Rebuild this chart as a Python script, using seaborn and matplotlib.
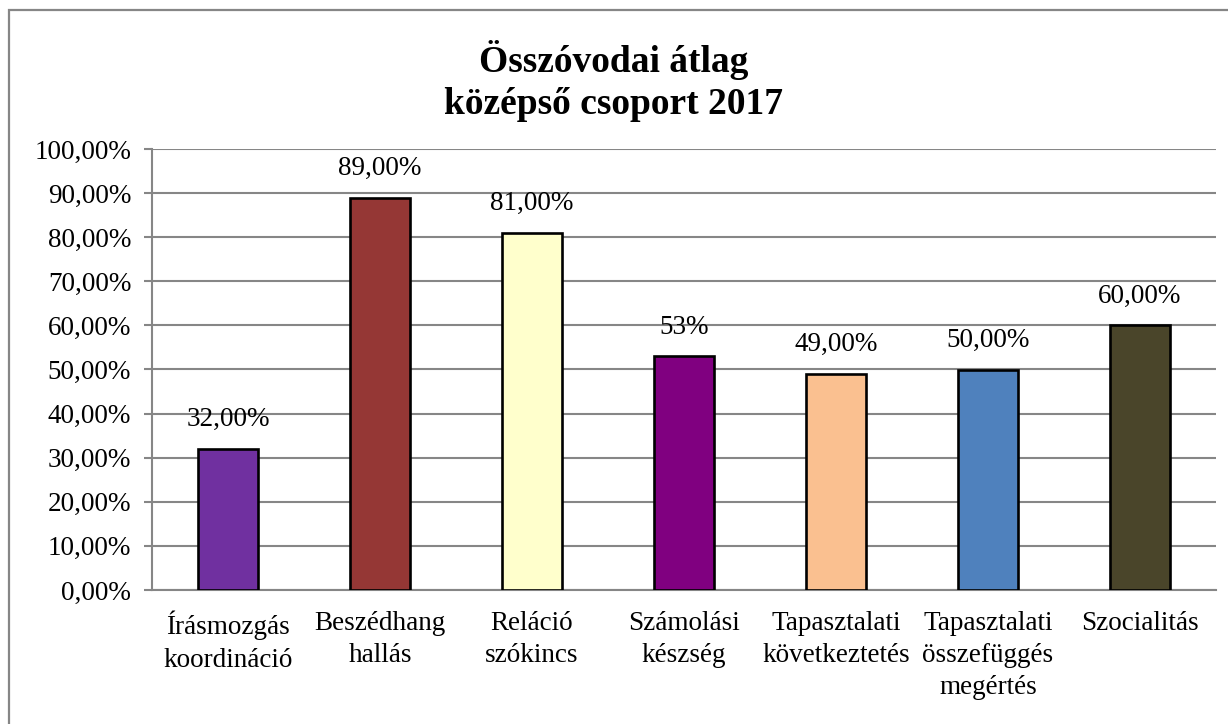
import matplotlib
matplotlib.use("Agg")
import matplotlib.pyplot as plt
import seaborn as sns
import pandas as pd
from matplotlib.patches import Rectangle
from matplotlib.ticker import FuncFormatter, MultipleLocator

categories = [
    "Írásmozgás\nkoordináció",
    "Beszédhang\nhallás",
    "Reláció\nszókincs",
    "Számolási\nkészség",
    "Tapasztalati\nkövetkeztetés",
    "Tapasztalati\nösszefüggés\nmegértés",
    "Szocialitás",
]
values = [0.32, 0.89, 0.81, 0.53, 0.49, 0.50, 0.60]
value_labels = ["32,00%", "89,00%", "81,00%", "53%", "49,00%", "50,00%", "60,00%"]
colors = ["#7030A0", "#953735", "#FFFFCC", "#800080", "#FAC090", "#4F81BD", "#4A452A"]
title_lines = ["Összóvodai átlag", "középső csoport 2017"]

sns.set_theme(style="white")
plt.rcParams["font.family"] = ["Liberation Serif", "DejaVu Serif"]
plt.rcParams["text.color"] = "black"

GRID = "#868686"
FS = 19.5

fig = plt.figure(figsize=(12.28, 7.24), dpi=100)
ax = fig.add_axes([152 / 1228, 1 - 590 / 724, (1216 - 152) / 1228, (590 - 149) / 724])

df = pd.DataFrame({"cat": categories, "val": values})
sns.barplot(data=df, x="cat", y="val", hue="cat", palette=colors, legend=False,
            saturation=1, width=0.4, edgecolor="black", linewidth=1.9, ax=ax, zorder=3)

ax.set_ylim(0, 1)
ax.set_xlim(-0.5, len(categories) - 0.5)
ax.yaxis.set_major_locator(MultipleLocator(0.1))
ax.yaxis.set_major_formatter(FuncFormatter(lambda v, p: f"{v*100:.2f}%".replace(".", ",")))
ax.grid(axis="y", color=GRID, linewidth=1.5, zorder=0)
ax.set_axisbelow(True)
for s in ["top", "right"]:
    ax.spines[s].set_visible(False)
for s in ["left", "bottom"]:
    ax.spines[s].set_color(GRID)
    ax.spines[s].set_linewidth(1.5)

ax.set_xlabel("")
ax.set_ylabel("")
ax.set_xticks(range(len(categories)))
ax.set_xticklabels(categories, fontsize=FS, linespacing=1.38, color="black")
ax.tick_params(axis="x", which="major", length=0, pad=15)
ax.set_xticks([i - 0.5 for i in range(len(categories) + 1)], minor=True)
ax.tick_params(axis="x", which="minor", length=6, width=1.5, color=GRID, direction="out")
ax.tick_params(axis="y", length=6, width=1.5, color=GRID, direction="out", pad=9,
               labelsize=FS, labelcolor="black", left=True)

for i, (v, lab) in enumerate(zip(values, value_labels)):
    ax.annotate(lab, xy=(i, v), xytext=(0, 21), textcoords="offset points",
                ha="center", va="center", fontsize=FS, color="black")

fig.text(0.5, 1 - 60 / 724, title_lines[0], ha="center", va="center",
         fontsize=27, fontweight="bold", color="black")
fig.text(0.5, 1 - 104 / 724, title_lines[1], ha="center", va="center",
         fontsize=27, fontweight="bold", color="black")

fig.patches.append(Rectangle((9 / 1228, -0.1), 1.2, 1 - 10 / 724 + 0.1,
                             transform=fig.transFigure, fill=False,
                             edgecolor=GRID, linewidth=1.6))

fig.savefig("out.png", dpi=100)
